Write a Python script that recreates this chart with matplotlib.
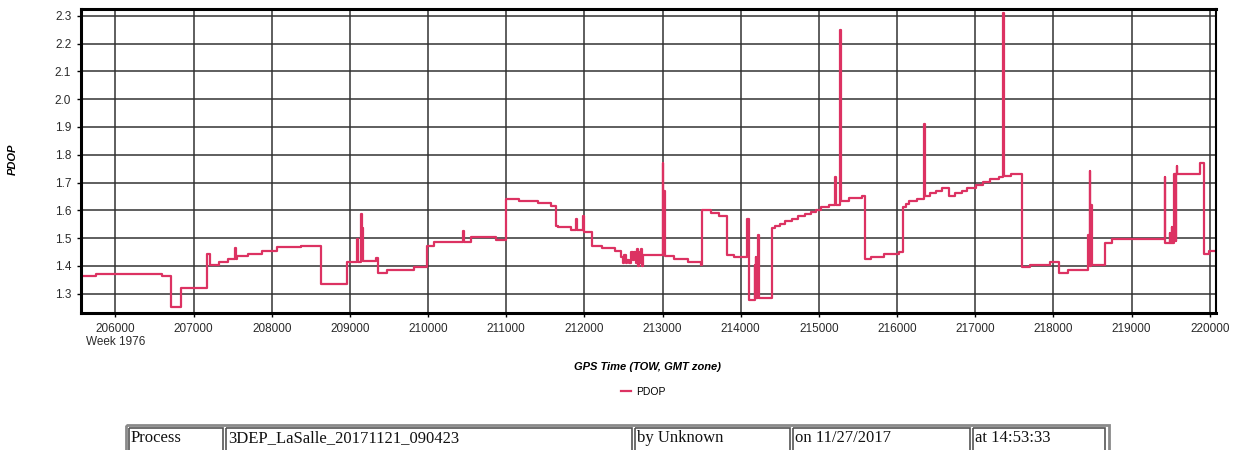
import matplotlib
matplotlib.use("Agg")
import matplotlib.pyplot as plt
from matplotlib.patches import Rectangle

# GPS time of week (start of each step) and PDOP value held from there
tow = [
    205560, 205750, 206590, 206705, 206840, 207170, 207215, 207320, 207440,
    207530, 207537, 207560, 207700, 207870, 208070, 208380, 208635, 208960,
    209097, 209103, 209148, 209155, 209162, 209168, 209330, 209358, 209475,
    209818, 209990, 210070, 210450, 210456, 210545, 210868, 210995,
    211157, 211403, 211572, 211631, 211665, 211834, 211898, 211904, 211983,
    211989, 212102, 212229, 212394, 212470,
    212490, 212510, 212530, 212545, 212570, 212600, 212625, 212640, 212655,
    212670, 212690, 212700, 212715, 212730, 212740, 212752,
    213000, 213007, 213020, 213027, 213147, 213322, 213492, 213505, 213620,
    213725, 213830, 213915, 214085, 214112, 214178, 214184, 214192, 214198,
    214215, 214221, 214227, 214233, 214400, 214440, 214500, 214560, 214650,
    214735, 214820, 214900, 214960, 215025, 215130, 215212, 215218, 215270,
    215277, 215380, 215550, 215585, 215670, 215830, 216020, 216080, 216110,
    216150, 216255, 216345, 216360, 216425, 216500, 216575, 216660, 216745,
    216825, 216900, 217010, 217095, 217195, 217310, 217360, 217366, 217372,
    217460, 217600, 217705, 217950, 218075, 218190, 218445, 218451, 218458,
    218468, 218474, 218482, 218488, 218494, 218665, 218745, 219425, 219432,
    219488, 219494, 219512, 219518, 219545, 219552, 219558, 219565, 219572,
    219579, 219586, 219870, 219925, 219990, 220085,
]
pdop = [
    1.365, 1.370, 1.362, 1.251, 1.320, 1.442, 1.402, 1.413, 1.425,
    1.464, 1.425, 1.436, 1.443, 1.454, 1.466, 1.472, 1.334, 1.414,
    1.495, 1.414, 1.585, 1.535, 1.440, 1.416, 1.427, 1.373, 1.386,
    1.396, 1.472, 1.486, 1.524, 1.486, 1.503, 1.494, 1.642,
    1.633, 1.627, 1.614, 1.545, 1.539, 1.530, 1.570, 1.530, 1.580,
    1.522, 1.470, 1.463, 1.452, 1.430,
    1.410, 1.440, 1.410, 1.420, 1.410, 1.450, 1.420, 1.450, 1.410,
    1.460, 1.400, 1.450, 1.410, 1.460, 1.400, 1.440,
    1.770, 1.440, 1.670, 1.434, 1.424, 1.414, 1.402, 1.602, 1.590,
    1.580, 1.440, 1.431, 1.570, 1.276, 1.404, 1.284, 1.430, 1.284,
    1.508, 1.300, 1.512, 1.284, 1.536, 1.545, 1.552, 1.560, 1.568,
    1.578, 1.588, 1.595, 1.602, 1.612, 1.620, 1.720, 1.620, 2.250,
    1.633, 1.643, 1.653, 1.426, 1.433, 1.441, 1.450, 1.612, 1.624,
    1.633, 1.641, 1.910, 1.650, 1.662, 1.670, 1.680, 1.652, 1.662,
    1.671, 1.682, 1.692, 1.701, 1.712, 1.720, 2.310, 1.970, 1.724,
    1.731, 1.396, 1.402, 1.412, 1.373, 1.386, 1.510, 1.400, 1.500,
    1.740, 1.400, 1.620, 1.420, 1.402, 1.482, 1.496, 1.720, 1.482,
    1.518, 1.482, 1.540, 1.482, 1.730, 1.490, 1.730, 1.490, 1.730,
    1.760, 1.731, 1.772, 1.441, 1.453, 1.453,
]

x_ticks = list(range(206000, 220001, 1000))
y_ticks = [1.3, 1.4, 1.5, 1.6, 1.7, 1.8, 1.9, 2.0, 2.1, 2.2, 2.3]
week_label = "Week 1976"

footer_cells = ["Process", "3DEP_LaSalle_20171121_090423", "by Unknown",
                "on 11/27/2017", "at 14:53:33"]
footer_edges = [128, 225, 634, 792, 972, 1107]   # pixel columns of the footer table

W, H = 1239, 450
line_color = "#dc3262"

fig = plt.figure(figsize=(W / 100, H / 100), dpi=100)
ax = fig.add_axes([81 / W, 1 - 313 / H, (1216 - 81) / W, (313 - 9) / H])

ax.step(tow, pdop, where="post", color=line_color, lw=1.6, label="PDOP")

ax.set_xlim(205560, 220080)
ax.set_ylim(1.23, 2.325)
ax.set_xticks(x_ticks)
ax.set_yticks(y_ticks)
ax.set_xticklabels([str(t) for t in x_ticks])
ax.set_yticklabels([f"{v:.1f}" for v in y_ticks])
ax.grid(True, color="#333333", lw=1.1)
ax.set_axisbelow(True)
ax.tick_params(labelsize=8.5, labelcolor="#2a2a2a", length=3, width=1, pad=4)
for side in ["left", "bottom", "top"]:
    ax.spines[side].set_linewidth(2.2)
ax.spines["right"].set_linewidth(1.5)

for lab in ax.get_xticklabels() + ax.get_yticklabels():
    lab.set_family("Liberation Sans")

# week label under the first tick
ax.text(x_ticks[0], -0.075, week_label, transform=ax.get_xaxis_transform(),
        ha="center", va="top", fontsize=8.5, color="#2a2a2a", family="Liberation Sans")

fig.text(13 / W, 1 - 159 / H, "PDOP", rotation=90, ha="center", va="center",
         fontsize=8, fontweight="bold", fontstyle="italic", family="Liberation Sans")
fig.text(647 / W, 1 - 367 / H, "GPS Time (TOW, GMT zone)", ha="center", va="center",
         fontsize=8, fontweight="bold", fontstyle="italic", family="Liberation Sans")

fig.legend(loc="center", bbox_to_anchor=(643 / W, 1 - 392 / H), frameon=False,
           handlelength=1.0, handletextpad=0.5,
           prop={"family": "Liberation Sans", "size": 7.5})

# footer table, drawn in pixel coordinates on an overlay axes
ov = fig.add_axes([0, 0, 1, 1])
ov.set_xlim(0, W)
ov.set_ylim(H, 0)
ov.axis("off")
ov.add_patch(Rectangle((footer_edges[0] - 2, 425), footer_edges[-1] - footer_edges[0] + 4, 30,
                       fill=False, ec="#8a8a8a", lw=2))
for i, txt in enumerate(footer_cells):
    x0, x1 = footer_edges[i], footer_edges[i + 1]
    ov.add_patch(Rectangle((x0 + 1, 428), x1 - x0 - 3, 24, fill=False, ec="#555555", lw=1.2))
    ov.text(x0 + 3, 438, txt, ha="left", va="center", fontsize=12,
            family="Liberation Serif", color="#111111")

fig.savefig("out.png", dpi=100)
